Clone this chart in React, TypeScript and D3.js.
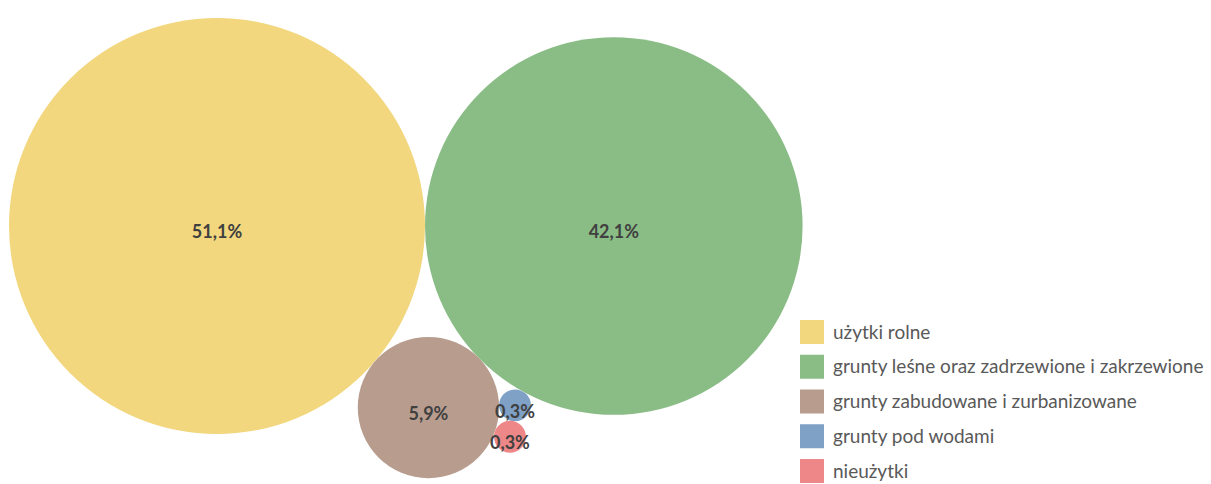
import React, { useRef, useEffect } from "react";
import * as d3 from "d3";

const categories = [
  "użytki rolne",
  "grunty leśne oraz zadrzewione i zakrzewione",
  "grunty zabudowane i zurbanizowane",
  "grunty pod wodami",
  "nieużytki",
];
const shares = [51.1, 42.1, 5.9, 0.3, 0.3];
const labels = ["51,1%", "42,1%", "5,9%", "0,3%", "0,3%"];
const colors = ["#F2D77E", "#8ABD86", "#B89D8F", "#7FA1C6", "#EE8888"];

type Bubble = { x: number; y: number; r: number };

// put a circle of radius rc so it touches a and b (side picks which of the two spots)
function touch(a: Bubble, b: Bubble, rc: number, side: number) {
  const dx = b.x - a.x;
  const dy = b.y - a.y;
  const d = Math.hypot(dx, dy);
  const da = a.r + rc;
  const db = b.r + rc;
  const along = (d * d + da * da - db * db) / (2 * d);
  const h = Math.sqrt(Math.max(0, da * da - along * along));
  const ux = dx / d;
  const uy = dy / d;
  return { x: a.x + along * ux - side * h * uy, y: a.y + along * uy + side * h * ux };
}

const App: React.FC = () => {
  const chartRef = useRef<SVGSVGElement | null>(null);

  useEffect(() => {
    if (!chartRef.current) return;
    const svg = d3.select(chartRef.current);
    svg.selectAll("*").remove();

    const width = 1211;
    const height = 484;
    svg.attr("width", width).attr("height", height);

    const r = d3
      .scaleSqrt()
      .domain([0, d3.max(shares) || 1])
      .range([0, 208]);

    const nodes = shares.map((v, i) => ({
      r: r(v),
      x: 0,
      y: 0,
      label: labels[i],
      color: colors[i],
    }));
    // big two side by side, the rest tucked into the gap below
    nodes[1].x = nodes[0].r + nodes[1].r;
    Object.assign(nodes[2], touch(nodes[0], nodes[1], nodes[2].r, 1));
    Object.assign(nodes[3], touch(nodes[2], nodes[1], nodes[3].r, 1));
    Object.assign(nodes[4], touch(nodes[2], nodes[3], nodes[4].r, 1));

    const g = svg.append("g").attr("transform", "translate(217,226)");

    g.selectAll("circle")
      .data(nodes)
      .join("circle")
      .attr("cx", (d) => d.x)
      .attr("cy", (d) => d.y)
      .attr("r", (d) => d.r)
      .attr("fill", (d) => d.color);

    g.selectAll("text")
      .data(nodes)
      .join("text")
      .attr("x", (d) => d.x)
      .attr("y", (d) => d.y + 6)
      .attr("dy", "0.35em")
      .attr("text-anchor", "middle")
      .attr("font-family", "Lato, sans-serif")
      .attr("font-weight", "bold")
      .attr("font-size", 18)
      .attr("fill", "#404040")
      .text((d) => d.label);

    const legendY = d3
      .scalePoint<string>()
      .domain(categories)
      .range([332, 471]);

    const legend = svg
      .append("g")
      .selectAll("g")
      .data(categories)
      .join("g")
      .attr("transform", (d) => `translate(800,${legendY(d)})`);

    legend
      .append("rect")
      .attr("x", 0)
      .attr("y", -12)
      .attr("width", 24)
      .attr("height", 24)
      .attr("fill", (d, i) => colors[i]);

    legend
      .append("text")
      .attr("x", 33)
      .attr("dy", "0.35em")
      .attr("font-family", "Lato, sans-serif")
      .attr("font-size", 19)
      .attr("fill", "#595959")
      .text((d) => d);
  }, []);

  return <svg ref={chartRef} style={{ position: "absolute", left: 0, top: 0 }} />;
};

export default App;
